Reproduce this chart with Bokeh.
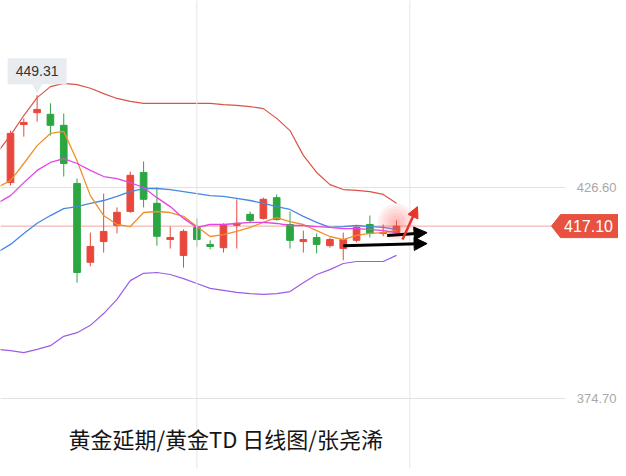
from bokeh.plotting import figure
from bokeh.models import Range1d, Span, Label, Arrow, NormalHead, ColumnDataSource
from bokeh.embed import file_html
from bokeh.resources import INLINE
from bokeh.core.properties import value

# ---------------- data ----------------
opens  = [427.8, 442.1, 445.0, 444.6, 441.9, 427.6, 408.2, 413.3, 417.3, 420.7,
          430.3, 422.7, 413.8, 409.9, 416.8, 412.6, 411.8, 417.3, 420.0, 419.0,
          424.1, 417.5, 413.3, 414.3, 412.3, 411.6, 413.6, 417.5, 415.3, 415.5]
highs  = [440.6, 443.6, 449.31, 447.3, 444.8, 428.8, 415.5, 425.1, 421.7, 430.5,
          433.0, 426.6, 417.0, 416.3, 419.0, 413.6, 417.8, 423.7, 420.7, 424.1,
          424.9, 420.7, 416.0, 415.3, 414.3, 415.5, 417.3, 419.7, 417.5, 418.5]
lows   = [427.1, 439.1, 442.8, 439.4, 429.3, 403.2, 407.2, 410.6, 415.3, 420.4,
          421.7, 412.3, 411.6, 406.9, 412.1, 411.4, 410.6, 411.6, 417.8, 418.7,
          418.5, 411.6, 410.6, 410.4, 411.8, 408.7, 413.1, 414.3, 414.6, 415.3]
closes = [439.9, 442.6, 445.8, 441.9, 432.5, 405.7, 412.1, 415.8, 420.5, 429.6,
          423.7, 414.6, 414.3, 415.8, 413.8, 412.1, 417.5, 417.8, 418.5, 423.7,
          418.7, 413.6, 413.8, 412.6, 413.8, 413.8, 416.8, 415.3, 415.5, 417.1]

line_idx = list(range(-1, 30))
boll_upper = [435.2, 439.4, 444.3, 448.7, 451.4, 452.2, 451.9, 451.0, 449.7, 448.5,
              447.8, 447.3, 447.3, 447.3, 447.3, 447.3, 447.3, 447.0, 446.8, 446.5,
              446.0, 443.6, 440.6, 434.5, 430.3, 427.3, 426.1, 425.9, 425.6, 424.9, 422.7]
boll_mid   = [410.6, 412.6, 415.3, 417.8, 419.7, 421.4, 421.9, 422.7, 423.4, 424.4,
              425.6, 426.35, 426.35, 426.1, 425.6, 425.1, 424.6, 424.4, 423.9, 423.4,
              422.7, 421.9, 421.2, 419.5, 418.0, 416.8, 417.0, 417.25, 417.0, 416.8, 416.3]
boll_lower = [386.8, 386.5, 386.0, 386.8, 387.7, 390.0, 390.9, 392.7, 395.6, 399.1,
              403.7, 405.5, 405.7, 405.2, 404.2, 403.0, 401.8, 401.3, 400.8, 400.5,
              400.3, 400.5, 401.0, 403.2, 405.2, 406.4, 407.9, 408.4, 408.4, 408.4, 409.9]
ma5  = [426.6, 428.3, 432.5, 436.9, 439.9, 440.4, 433.2, 424.6, 419.7, 417.5,
        417.0, 420.45, 420.7, 420.45, 419.5, 417.0, 414.55, 415.0, 415.8, 416.8,
        418.0, 419.2, 418.2, 417.5, 416.0, 414.55, 413.8, 414.8, 415.3, 415.5, 416.0]
ma10 = [422.7, 424.6, 427.8, 430.8, 432.75, 433.7, 432.5, 430.8, 429.3, 428.8,
        427.8, 426.6, 424.1, 421.9, 419.0, 416.8, 417.5, 417.5, 417.75, 418.0,
        418.0, 417.75, 417.25, 417.25, 417.0, 416.8, 416.5, 416.5, 416.3, 416.0, 415.5]

grid_prices = [426.60, 374.70]
grid_labels = ["426.60", "374.70"]
vgrid_idx = [14, 30]
last_price = 417.10
last_label = "417.10"
peak_idx = 2
peak_label = "449.31"
title_text = "黄金延期/黄金TD  日线图/张尧浠"

# hand-drawn annotation arrows: (x_start, y_start, x_end, y_end)
black_arrows = [(28.3, 414.8, 31.3, 415.5), (25.0, 412.3, 31.3, 412.8)]
red_arrow = (29.45, 413.8, 30.58, 421.9)
glow_point = (29.0, 418.0)

# ---------------- figure ----------------
W, H = 618, 468
x0, x1 = -0.751, 45.68
y0, y1 = 357.49, 472.59
DX = (x1 - x0) / W
DY = (y1 - y0) / H


def px(v):
    return x0 + v * DX


p = figure(width=W, height=H, x_range=Range1d(x0, x1), y_range=Range1d(y0, y1),
           output_backend="svg", toolbar_location=None,
           x_axis_location=None, y_axis_location=None, min_border=0)
p.outline_line_color = None
p.background_fill_color = "white"
p.border_fill_color = "white"
p.xgrid.visible = False
p.ygrid.visible = False

RED = "#e8483c"
GREEN = "#2ba640"

# grid
for v in vgrid_idx:
    p.add_layout(Span(location=v, dimension="height", line_color="#e6e6e6", line_width=1))
p.segment(x0=[x0] * len(grid_prices), y0=grid_prices, x1=[px(565)] * len(grid_prices),
          y1=grid_prices, line_color="#e2e2e2", line_width=1)
p.text(x=[px(616)] * len(grid_prices), y=grid_prices, text=grid_labels,
       text_align="right", text_baseline="middle", text_color="#a8a8a8",
       text_font=value("Liberation Sans"), text_font_size="13px")

# last price line
p.segment(x0=[x0], y0=[last_price], x1=[px(551)], y1=[last_price],
          line_color="#f2a49c", line_width=1)

# candles
idx = list(range(len(opens)))
cols = [RED if c >= o else GREEN for o, c in zip(opens, closes)]
src = ColumnDataSource(dict(x=idx, o=opens, h=highs, l=lows, c=closes,
                            top=[max(o, c) for o, c in zip(opens, closes)],
                            bot=[min(o, c) for o, c in zip(opens, closes)],
                            col=cols))
p.segment(x0="x", y0="h", x1="x", y1="l", line_color="col", line_width=1, source=src)
p.vbar(x="x", width=0.5, top="top", bottom="bot", fill_color="col", line_color="col",
       source=src)

# indicator lines
p.line(line_idx, boll_upper, line_color="#d95447", line_width=1.2)
p.line(line_idx, boll_lower, line_color="#9b5de8", line_width=1.2)
p.line(line_idx, boll_mid, line_color="#4689e0", line_width=1.3)
p.line(line_idx, ma5, line_color="#f28f2c", line_width=1.3)
p.line(line_idx, ma10, line_color="#e444e4", line_width=1.3)

# glow
p.scatter(x=[glow_point[0]] * 6, y=[glow_point[1]] * 6, size=[38, 32, 26, 20, 14, 8],
          marker="circle", fill_color="#ff5a5a", fill_alpha=0.08, line_color=None)

# arrows
for (xs, ys, xe, ye) in black_arrows:
    p.add_layout(Arrow(x_start=xs, y_start=ys, x_end=xe, y_end=ye, line_width=3,
                       line_color="black",
                       end=NormalHead(size=13, fill_color="black", line_color="black")))
p.add_layout(Arrow(x_start=red_arrow[0], y_start=red_arrow[1], x_end=red_arrow[2],
                   y_end=red_arrow[3], line_width=2.5, line_color="#e8352b",
                   end=NormalHead(size=11, fill_color="#e8352b", line_color="#e8352b")))

# last price tag
hh = 11.5 * DY
p.patch(x=[px(551), px(560), x1 + 1, x1 + 1, px(560)],
        y=[last_price, last_price + hh, last_price + hh, last_price - hh, last_price - hh],
        fill_color="#e8503f", line_color="#e8503f")
p.text(x=[px(588)], y=[last_price], text=[last_label], text_align="center",
       text_baseline="middle", text_color="white", text_font=value("Liberation Sans"),
       text_font_size="16px")

# peak callout
peak_high = highs[peak_idx]
p.scatter(x=[peak_idx], y=[peak_high + 8 * DY], marker="inverted_triangle", size=10,
          fill_color="#e8ecf0", line_color=None)
p.rect(x=[peak_idx], y=[peak_high + 24 * DY], width=59, height=26,
       width_units="screen", height_units="screen",
       fill_color="#e8ecf0", line_color=None)
p.text(x=[peak_idx], y=[peak_high + 24 * DY], text=[peak_label], text_align="center",
       text_baseline="middle", text_color="#333333", text_font=value("Liberation Sans"),
       text_font_size="14px")

# title text
p.add_layout(Label(x=68, y=31, x_units="screen", y_units="screen", text=title_text,
                   text_align="left", text_baseline="middle", text_color="#151515",
                   text_font="Noto Sans CJK SC", text_font_size="22px"))

open("out.html", "w").write(file_html(p, INLINE))
